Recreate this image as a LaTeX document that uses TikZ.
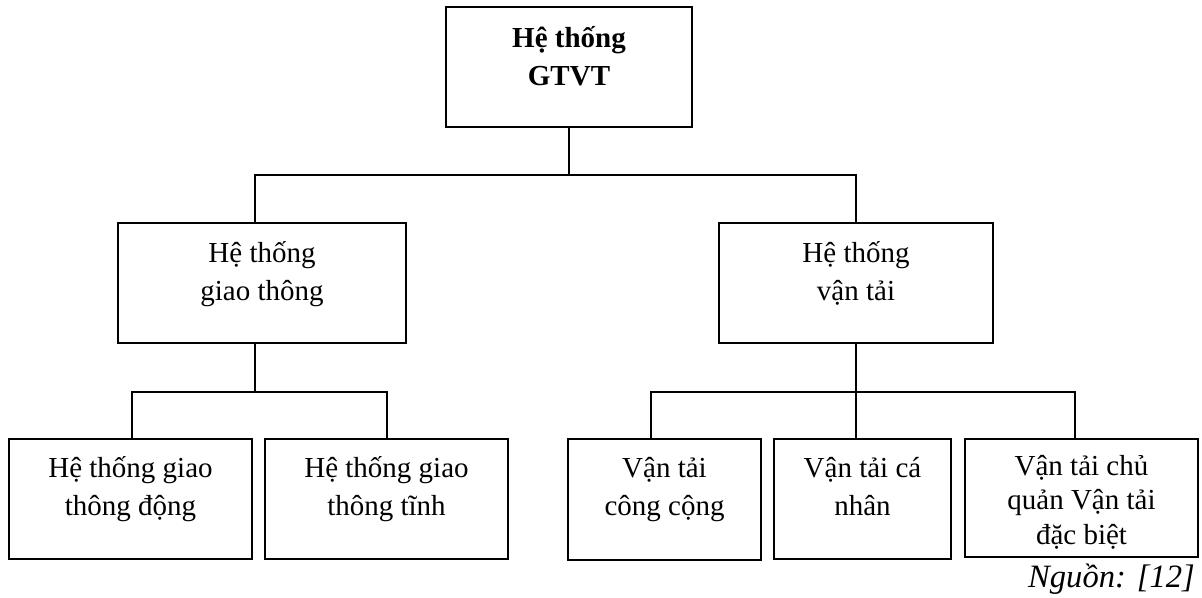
\documentclass[tikz,border=0pt]{standalone}
\usepackage{fontspec}
\setmainfont{Liberation Serif}
% framed text block: [line spacing]{width}{height}{first baseline}{text}
\newcommand{\blocktext}[5][38]{\parbox[c][#3pt][t]{#2pt}{\fontsize{29}{#1}\selectfont\centering\rule{0pt}{#4pt}#5}}
\begin{document}
\begin{tikzpicture}[x=1pt, y=-1pt,
  box/.style={draw, line width=2.2pt, inner sep=0pt, anchor=center},
  link/.style={line width=2pt}]
\useasboundingbox (0,0) rectangle (1202,597);

% top level
\node[box] (top) at (569,67) {\blocktext{246}{120}{40}{\bfseries Hệ thống\\GTVT}};

% second level
\node[box] (lm) at (262,283) {\blocktext{288}{120}{39}{Hệ thống\\giao thông}};
\node[box] (rm) at (856,283) {\blocktext{274}{120}{39}{Hệ thống\\vận tải}};

% third level
\node[box] (g1) at (130.5,499) {\blocktext{243}{120}{38}{Hệ thống giao\\thông động}};
\node[box] (g2) at (386.5,499) {\blocktext{243}{120}{38}{Hệ thống giao\\thông tĩnh}};
\node[box] (v1) at (664.5,499.5) {\blocktext{193}{121}{38}{Vận tải\\công cộng}};
\node[box] (v2) at (862.5,499) {\blocktext{177}{120}{38}{Vận tải cá\\nhân}};
\node[box] (v3) at (1081.5,498) {\blocktext[34.5]{233}{118}{36}{Vận tải chủ\\quản Vận tải\\đặc biệt}};

% source note
\node[anchor=base east, inner sep=0pt, font=\fontsize{32.6}{38}\selectfont\itshape] (src) at (1195,587) {Nguồn: [12]};

% connector junctions
\coordinate (jl) at (255,175);
\coordinate (jr) at (856,175);
\coordinate (kl) at (132,392);
\coordinate (kr) at (387,392);
\coordinate (ml) at (651,392);
\coordinate (mr) at (1075,392);

% connectors
\draw[link] (top.south) -- (top.south |- jl);
\draw[link] (lm.north -| jl) -- (jl) -- (jr) -- (rm.north -| jr);
\draw[link] (lm.south -| jl) -- (jl |- kl);
\draw[link] (g1.north -| kl) -- (kl) -- (kr) -- (g2.north -| kr);
\draw[link] (rm.south -| jr) -- (v2.north -| jr);
\draw[link] (v1.north -| ml) -- (ml) -- (mr) -- (v3.north -| mr);
\end{tikzpicture}
\end{document}
